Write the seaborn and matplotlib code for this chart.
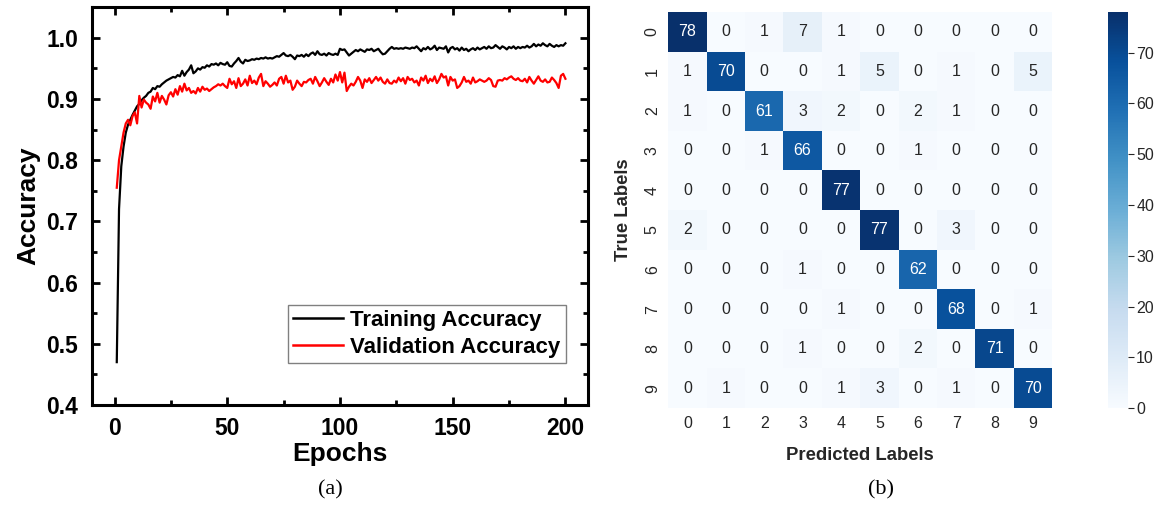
import numpy as np
import pandas as pd
import matplotlib
matplotlib.use("Agg")
import matplotlib.pyplot as plt
from matplotlib.ticker import MultipleLocator
import seaborn as sns

# ---------------- training history ----------------
epochs = list(range(1, 201))

train_acc = [
    0.470, 0.720, 0.790, 0.822, 0.845, 0.858, 0.866, 0.874, 0.881, 0.888,
    0.892, 0.898, 0.902, 0.905, 0.910, 0.912, 0.918, 0.916, 0.921, 0.920,
    0.924, 0.927, 0.930, 0.932, 0.934, 0.936, 0.935, 0.939, 0.937, 0.946,
    0.938, 0.944, 0.948, 0.955, 0.942, 0.945, 0.950, 0.948, 0.952, 0.951,
    0.955, 0.953, 0.957, 0.956, 0.958, 0.955, 0.959, 0.957, 0.956, 0.960,
    0.954, 0.953, 0.958, 0.962, 0.967, 0.961, 0.958, 0.964, 0.962, 0.963,
    0.965, 0.964, 0.966, 0.965, 0.967, 0.966, 0.968, 0.966, 0.967, 0.966,
    0.968, 0.970, 0.969, 0.972, 0.975, 0.971, 0.970, 0.972, 0.969, 0.965,
    0.971, 0.970, 0.972, 0.969, 0.973, 0.970, 0.974, 0.976, 0.972, 0.978,
    0.973, 0.972, 0.974, 0.971, 0.975, 0.973, 0.972, 0.974, 0.972, 0.982,
    0.980, 0.981, 0.976, 0.971, 0.974, 0.977, 0.980, 0.978, 0.981, 0.979,
    0.977, 0.981, 0.980, 0.982, 0.978, 0.980, 0.982, 0.977, 0.973, 0.974,
    0.978, 0.982, 0.985, 0.982, 0.983, 0.982, 0.983, 0.982, 0.984, 0.983,
    0.982, 0.984, 0.983, 0.986, 0.982, 0.978, 0.983, 0.981, 0.985, 0.981,
    0.983, 0.987, 0.980, 0.984, 0.983, 0.982, 0.986, 0.976, 0.983, 0.985,
    0.981, 0.983, 0.979, 0.984, 0.980, 0.982, 0.978, 0.981, 0.983, 0.980,
    0.984, 0.981, 0.983, 0.985, 0.982, 0.986, 0.983, 0.984, 0.988, 0.985,
    0.982, 0.986, 0.984, 0.981, 0.985, 0.983, 0.986, 0.982, 0.985, 0.983,
    0.985, 0.984, 0.987, 0.984, 0.986, 0.990, 0.986, 0.989, 0.987, 0.991,
    0.988, 0.986, 0.990, 0.987, 0.985, 0.988, 0.986, 0.988, 0.987, 0.991,
]

val_acc = [
    0.755, 0.800, 0.822, 0.845, 0.860, 0.866, 0.857, 0.872, 0.878, 0.860,
    0.905, 0.886, 0.899, 0.894, 0.891, 0.884, 0.904, 0.896, 0.910, 0.894,
    0.905, 0.899, 0.891, 0.906, 0.911, 0.904, 0.916, 0.907, 0.921, 0.912,
    0.925, 0.914, 0.918, 0.910, 0.913, 0.909, 0.918, 0.912, 0.920, 0.915,
    0.917, 0.913, 0.916, 0.919, 0.921, 0.924, 0.922, 0.925, 0.921, 0.918,
    0.933, 0.924, 0.929, 0.918, 0.934, 0.921, 0.925, 0.932, 0.922, 0.938,
    0.926, 0.930, 0.924, 0.935, 0.941, 0.921, 0.929, 0.925, 0.920, 0.923,
    0.927, 0.922, 0.933, 0.936, 0.925, 0.938, 0.927, 0.930, 0.915, 0.920,
    0.930, 0.925, 0.921, 0.928, 0.927, 0.931, 0.933, 0.925, 0.936, 0.929,
    0.921, 0.927, 0.934, 0.928, 0.923, 0.933, 0.927, 0.940, 0.930, 0.944,
    0.927, 0.943, 0.913, 0.920, 0.925, 0.922, 0.928, 0.936, 0.930, 0.918,
    0.932, 0.928, 0.934, 0.926, 0.931, 0.936, 0.930, 0.935, 0.928, 0.925,
    0.932, 0.926, 0.925, 0.930, 0.927, 0.935, 0.929, 0.934, 0.925, 0.936,
    0.931, 0.933, 0.927, 0.930, 0.922, 0.935, 0.930, 0.938, 0.926, 0.933,
    0.929, 0.937, 0.926, 0.932, 0.941, 0.935, 0.937, 0.922, 0.936, 0.930,
    0.932, 0.918, 0.921, 0.927, 0.936, 0.928, 0.930, 0.925, 0.935, 0.927,
    0.929, 0.932, 0.930, 0.928, 0.930, 0.934, 0.931, 0.921, 0.920, 0.930,
    0.931, 0.930, 0.934, 0.932, 0.935, 0.937, 0.933, 0.931, 0.934, 0.930,
    0.929, 0.933, 0.927, 0.936, 0.930, 0.925, 0.931, 0.937, 0.930, 0.928,
    0.932, 0.927, 0.928, 0.935, 0.931, 0.926, 0.918, 0.938, 0.941, 0.933,
]

# ---------------- confusion matrix ----------------
class_labels = ["0", "1", "2", "3", "4", "5", "6", "7", "8", "9"]
conf_matrix = [
    [78, 0, 1, 7, 1, 0, 0, 0, 0, 0],
    [1, 70, 0, 0, 1, 5, 0, 1, 0, 5],
    [1, 0, 61, 3, 2, 0, 2, 1, 0, 0],
    [0, 0, 1, 66, 0, 0, 1, 0, 0, 0],
    [0, 0, 0, 0, 77, 0, 0, 0, 0, 0],
    [2, 0, 0, 0, 0, 77, 0, 3, 0, 0],
    [0, 0, 0, 1, 0, 0, 62, 0, 0, 0],
    [0, 0, 0, 0, 1, 0, 0, 68, 0, 1],
    [0, 0, 0, 1, 0, 0, 2, 0, 71, 0],
    [0, 1, 0, 0, 1, 3, 0, 1, 0, 70],
]

plt.rcParams["font.family"] = ["Liberation Sans", "DejaVu Sans"]

fig = plt.figure(figsize=(11.54, 5.12), dpi=100)

# ---------------- (a) accuracy curves ----------------
ax1 = fig.add_axes([0.0797, 0.209, 0.4298, 0.777])
hist = pd.DataFrame({
    "Epoch": epochs * 2,
    "Accuracy": train_acc + val_acc,
    "Series": ["Training Accuracy"] * len(epochs) + ["Validation Accuracy"] * len(epochs),
})
sns.lineplot(data=hist, x="Epoch", y="Accuracy", hue="Series",
             palette={"Training Accuracy": "black", "Validation Accuracy": "#ff0000"},
             linewidth=1.6, ax=ax1)
ax1.set_xlim(-10, 210)
ax1.set_ylim(0.4, 1.05)
ax1.xaxis.set_major_locator(MultipleLocator(50))
ax1.xaxis.set_minor_locator(MultipleLocator(25))
ax1.yaxis.set_major_locator(MultipleLocator(0.1))
ax1.yaxis.set_minor_locator(MultipleLocator(0.05))
ax1.yaxis.set_major_formatter(matplotlib.ticker.FormatStrFormatter("%.1f"))
ax1.tick_params(which="both", direction="in", top=True, right=True, width=2)
ax1.tick_params(which="major", length=6, labelsize=16.5)
ax1.tick_params(axis="x", which="major", pad=9)
ax1.tick_params(axis="y", which="major", pad=10)
ax1.tick_params(which="minor", length=3.5)
for lab in ax1.get_xticklabels() + ax1.get_yticklabels():
    lab.set_fontweight("bold")
for sp in ax1.spines.values():
    sp.set_linewidth(2.2)
    sp.set_color("black")
ax1.set_xlabel("Epochs", fontsize=19, fontweight="bold", labelpad=1)
ax1.set_ylabel("Accuracy", fontsize=19, fontweight="bold", labelpad=4)
leg = ax1.legend(loc="lower right", bbox_to_anchor=(0.955, 0.105), borderaxespad=0,
                 prop={"size": 16, "weight": "bold"}, fancybox=False, framealpha=1,
                 edgecolor="#808080", handlelength=2.25, handletextpad=0.3,
                 borderpad=0.25, labelspacing=0.25)
leg.get_frame().set_linewidth(1.0)
for line in leg.get_lines():
    line.set_linewidth(1.8)

# ---------------- (b) confusion matrix ----------------
ax2 = fig.add_axes([0.579, 0.203, 0.3328, 0.7734])
cax = fig.add_axes([0.960, 0.203, 0.0173, 0.7734])
cm = pd.DataFrame(conf_matrix, index=class_labels, columns=class_labels)
sns.heatmap(cm, annot=True, fmt="d", cmap="Blues", ax=ax2, cbar_ax=cax,
            annot_kws={"fontsize": 11.5})
ax2.tick_params(length=0, labelsize=11.5, labelcolor="#262626", pad=6)
plt.setp(ax2.get_yticklabels(), rotation=90, va="center")
plt.setp(ax2.get_xticklabels(), rotation=0)
ax2.set_xlabel("Predicted Labels", fontsize=13.3, fontweight="bold", color="#262626", labelpad=11)
ax2.set_ylabel("True Labels", fontsize=13.3, fontweight="bold", color="#262626", labelpad=9)
cax.tick_params(length=4, width=0.8, color="#262626", labelsize=11.5, labelcolor="#262626", pad=2)
cbar = ax2.collections[0].colorbar
cbar.outline.set_visible(False)

# ---------------- panel captions ----------------
fig.text(0.286, 0.043, "(a)", fontsize=16, family="Liberation Serif", ha="center", va="center")
fig.text(0.763, 0.043, "(b)", fontsize=16, family="Liberation Serif", ha="center", va="center")

fig.savefig("out.png", dpi=100, facecolor="white")
